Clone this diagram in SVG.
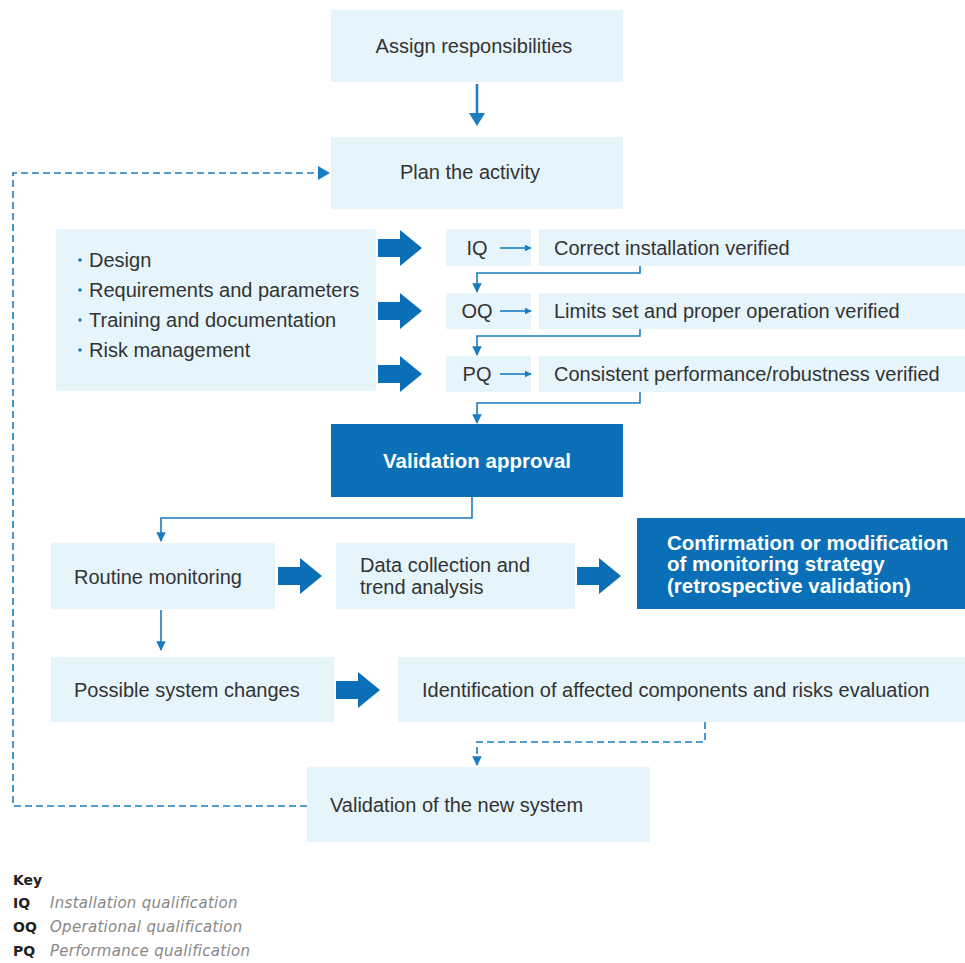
<svg xmlns="http://www.w3.org/2000/svg" width="965" height="963" viewBox="0 0 965 963">
<defs>
<style>
.box{fill:#e6f4fc}
.dark{fill:#0a6fb6}
.t{font-family:"Liberation Sans",Arial,sans-serif;font-size:20px;fill:#333}
.tb{font-family:"Liberation Sans",Arial,sans-serif;font-size:20.5px;font-weight:bold;fill:#fff}
.ln{fill:none;stroke:#1a7cc1;stroke-width:1.6}
.dash{fill:none;stroke:#1a7cc1;stroke-width:1.6;stroke-dasharray:7,4}
.big{fill:#0a6fb6}
.key{font-family:"DejaVu Sans",sans-serif;font-size:14px;fill:#222}
.keyi{font-family:"DejaVu Sans",sans-serif;font-size:15px;font-style:italic;fill:#888;letter-spacing:0.3px}
</style>
<marker id="ah" viewBox="0 0 10 10" refX="9" refY="5" markerWidth="4.5" markerHeight="4.5" orient="auto" markerUnits="strokeWidth"><path d="M0,0L10,5L0,10z" fill="#1a7cc1"/></marker>
<marker id="ahL" viewBox="0 0 10 10" refX="9" refY="5" markerWidth="6" markerHeight="6" orient="auto" markerUnits="strokeWidth"><path d="M0,0L10,5L0,10z" fill="#1a7cc1"/></marker>
<path id="bigarrow" d="M0,-9H22V-18L44,0L22,18V9H0z"/>
</defs>
<rect width="965" height="963" fill="#fff"/>

<g id="n-assign"><rect class="box" x="331" y="10" width="292" height="72"/><text class="t" x="474" y="53" text-anchor="middle">Assign responsibilities</text></g>
<g id="n-plan"><rect class="box" x="331" y="137" width="292" height="72"/><text class="t" x="470" y="179" text-anchor="middle">Plan the activity</text></g>
<g id="n-list"><rect class="box" x="56" y="229" width="320" height="162"/>
<circle cx="80" cy="260" r="1.8" fill="#1a7cc1"/><circle cx="80" cy="290" r="1.8" fill="#1a7cc1"/><circle cx="80" cy="320" r="1.8" fill="#1a7cc1"/><circle cx="80" cy="350" r="1.8" fill="#1a7cc1"/>
<text class="t" x="89" y="267">Design</text>
<text class="t" x="89" y="297">Requirements and parameters</text>
<text class="t" x="89" y="327">Training and documentation</text>
<text class="t" x="89" y="357">Risk management</text></g>
<g id="n-iq"><rect class="box" x="446" y="229" width="85" height="37"/><text class="t" x="477" y="255" text-anchor="middle">IQ</text></g>
<g id="n-oq"><rect class="box" x="446" y="293" width="85" height="36"/><text class="t" x="477" y="318" text-anchor="middle">OQ</text></g>
<g id="n-pq"><rect class="box" x="446" y="356" width="85" height="36"/><text class="t" x="477" y="381" text-anchor="middle">PQ</text></g>
<g id="n-iqv"><rect class="box" x="539" y="229" width="426" height="37"/><text class="t" x="554" y="255">Correct installation verified</text></g>
<g id="n-oqv"><rect class="box" x="539" y="293" width="426" height="36"/><text class="t" x="554" y="318">Limits set and proper operation verified</text></g>
<g id="n-pqv"><rect class="box" x="539" y="356" width="426" height="36"/><text class="t" x="554" y="381">Consistent performance/robustness verified</text></g>
<g id="n-approval"><rect class="dark" x="331" y="424" width="292" height="73"/><text class="tb" x="477" y="468" text-anchor="middle">Validation approval</text></g>
<g id="n-routine"><rect class="box" x="51" y="543" width="224" height="66"/><text class="t" x="74" y="584">Routine monitoring</text></g>
<g id="n-data"><rect class="box" x="336" y="543" width="239" height="66"/><text class="t" x="360" y="572">Data collection and</text><text class="t" x="360" y="594">trend analysis</text></g>
<g id="n-confirm"><rect class="dark" x="637" y="518" width="328" height="91"/><text class="tb" x="667" y="550">Confirmation or modification</text><text class="tb" x="667" y="571">of monitoring strategy</text><text class="tb" x="667" y="593">(retrospective validation)</text></g>
<g id="n-changes"><rect class="box" x="51" y="657" width="283" height="65"/><text class="t" x="74" y="697">Possible system changes</text></g>
<g id="n-ident"><rect class="box" x="398" y="657" width="567" height="65"/><text class="t" x="422" y="697">Identification of affected components and risks evaluation</text></g>
<g id="n-newsys"><rect class="box" x="307" y="767" width="343" height="75"/><text class="t" x="330" y="812">Validation of the new system</text></g>

<g id="connectors">
<line x1="477" y1="84" x2="477" y2="115" stroke="#1a7cc1" stroke-width="2.5"/>
<path d="M469,113L485,113L477,126z" fill="#1a7cc1"/>
<path class="dash" d="M307,806H13V173H318"/>
<path d="M318,166L330,173L318,180z" fill="#1a7cc1"/>
<use href="#bigarrow" class="big" x="378" y="248"/>
<use href="#bigarrow" class="big" x="378" y="311"/>
<use href="#bigarrow" class="big" x="378" y="374"/>
<use href="#bigarrow" class="big" x="278" y="576"/>
<use href="#bigarrow" class="big" x="577" y="576"/>
<use href="#bigarrow" class="big" x="336" y="690"/>
<path class="ln" d="M500,248H531" stroke-width="2.4" marker-end="url(#ah)"/>
<path class="ln" d="M500,311H531" stroke-width="2.4" marker-end="url(#ah)"/>
<path class="ln" d="M500,374H531" stroke-width="2.4" marker-end="url(#ah)"/>
<path class="ln" d="M640,266V273H477V292" marker-end="url(#ahL)"/>
<path class="ln" d="M640,329V336H477V355" marker-end="url(#ahL)"/>
<path class="ln" d="M640,392V403H477V423" marker-end="url(#ahL)"/>
<path class="ln" d="M472,497V518H161V541" marker-end="url(#ahL)"/>
<path class="ln" d="M161,610V650" marker-end="url(#ahL)"/>
<path class="dash" d="M705,722V742H477V765" stroke-dasharray="4,3" marker-end="url(#ahL)"/>
</g>

<g id="key">
<text class="key" x="13" y="885" font-weight="bold">Key</text>
<text class="key" x="13" y="908" font-weight="bold">IQ</text><text class="keyi" x="50" y="908">Installation qualification</text>
<text class="key" x="13" y="932" font-weight="bold">OQ</text><text class="keyi" x="50" y="932">Operational qualification</text>
<text class="key" x="13" y="956" font-weight="bold">PQ</text><text class="keyi" x="50" y="956">Performance qualification</text>
</g>
</svg>
